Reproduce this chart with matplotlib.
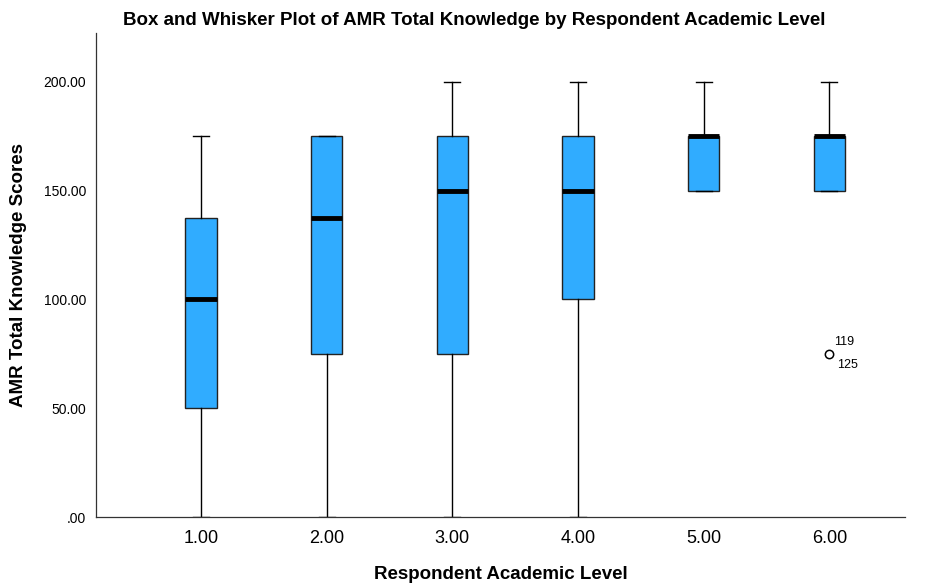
"""SPSS-style box plot: AMR total knowledge by respondent academic level."""
import matplotlib
matplotlib.use("Agg")
import matplotlib.pyplot as plt

plt.rcParams["font.family"] = ["Liberation Sans", "DejaVu Sans"]

LEVELS = [1, 2, 3, 4, 5, 6]
LEVEL_LABELS = ["1.00", "2.00", "3.00", "4.00", "5.00", "6.00"]
WHISK_LO = [0, 0, 0, 0, 150, 150]
Q1 = [50, 75, 75, 100, 150, 150]
MEDIAN = [100, 137.5, 150, 150, 175, 175]
Q3 = [137.5, 175, 175, 175, 175, 175]
WHISK_HI = [175, 175, 200, 200, 200, 200]
OUTLIERS = [[], [], [], [], [], [75]]
OUTLIER_IDS = {6: ("119", "125")}

BOX_COLOR = "#30ACFF"


def main():
    stats = []
    for i in range(len(LEVELS)):
        stats.append(dict(whislo=WHISK_LO[i], q1=Q1[i], med=MEDIAN[i], q3=Q3[i],
                          whishi=WHISK_HI[i], fliers=OUTLIERS[i]))

    fig = plt.figure(figsize=(9.27, 5.85), dpi=100)
    ax = fig.add_axes([0.1036, 0.1162, 0.8724, 0.8274])

    ax.bxp(stats, positions=LEVELS, widths=0.25, patch_artist=True,
           capwidths=0.125,
           boxprops=dict(facecolor=BOX_COLOR, edgecolor="#222222", linewidth=1.0),
           medianprops=dict(color="black", linewidth=3.5, solid_capstyle="butt"),
           whiskerprops=dict(color="black", linewidth=1.0),
           capprops=dict(color="black", linewidth=1.0),
           flierprops=dict(marker="o", markerfacecolor="white", markeredgecolor="black",
                           markersize=6, markeredgewidth=1.1))

    for pos, (top, bottom) in OUTLIER_IDS.items():
        yv = OUTLIERS[pos - 1][0]
        ax.text(pos + 0.04, yv + 2.5, top, fontsize=9, ha="left", va="bottom")
        ax.text(pos + 0.06, yv - 2.5, bottom, fontsize=9, ha="left", va="top")

    ax.set_xlim(0.165, 6.6)
    ax.set_ylim(0, 222.5)
    ax.set_xticks(LEVELS)
    ax.set_xticklabels(LEVEL_LABELS, fontsize=13)
    ax.set_yticks([0, 50, 100, 150, 200])
    ax.set_yticklabels([".00", "50.00", "100.00", "150.00", "200.00"], fontsize=10)
    ax.tick_params(axis="x", length=0, pad=9)
    ax.tick_params(axis="y", length=0, pad=7)
    ax.spines["top"].set_visible(False)
    ax.spines["right"].set_visible(False)
    for s in ("left", "bottom"):
        ax.spines[s].set_linewidth(0.9)
        ax.spines[s].set_color("#333333")

    ax.set_xlabel("Respondent Academic Level", fontsize=13.5, fontweight="bold", labelpad=14)
    ax.set_ylabel("AMR Total Knowledge Scores", fontsize=13.5, fontweight="bold", labelpad=12)

    fig.text(0.512, 0.957, "Box and Whisker Plot of AMR Total Knowledge by Respondent Academic Level",
             ha="center", va="baseline", fontsize=13.5, fontweight="bold")

    fig.savefig("out.png", dpi=100, facecolor="white")
    plt.close(fig)


if __name__ == "__main__":
    main()
